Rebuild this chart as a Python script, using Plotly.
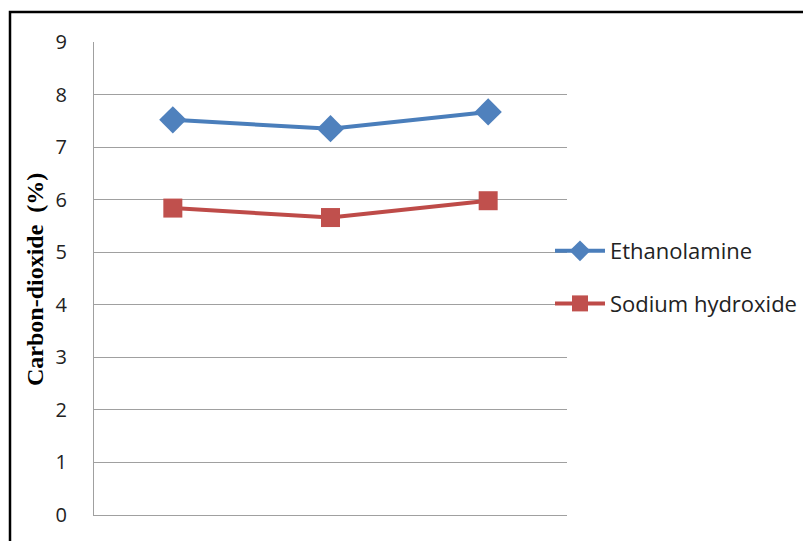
import plotly.graph_objects as go

# Sample positions along the (unlabelled) horizontal axis
samples = [1, 2, 3]

# Carbon-dioxide content (%) for each absorbent
ethanolamine = [7.52, 7.35, 7.67]
sodium_hydroxide = [5.84, 5.66, 5.98]

y_ticks = [0, 1, 2, 3, 4, 5, 6, 7, 8, 9]

W, H = 803, 541
L, R, T, B = 94, 236, 42, 26
pw, ph = W - L - R, H - T - B

fig = go.Figure()
fig.add_trace(go.Scatter(
    x=samples, y=ethanolamine, name="Ethanolamine", mode="lines+markers",
    line=dict(color="#4A7EBB", width=4),
    marker=dict(symbol="diamond", size=21, color="#4F81BD"),
    legendgroup="a",
))
fig.add_trace(go.Scatter(
    x=samples, y=sodium_hydroxide, name="Sodium hydroxide", mode="lines+markers",
    line=dict(color="#BE4B48", width=4),
    marker=dict(symbol="square", size=19, color="#C0504D"),
    legendgroup="b",
))

fig.update_layout(
    width=W, height=H,
    margin=dict(l=L, r=R, t=T, b=B, autoexpand=False),
    paper_bgcolor="white", plot_bgcolor="white",
    font=dict(family="Open Sans", size=20, color="#222222"),
    showlegend=True,
    legend=dict(
        x=(550 - L) / pw, y=(515 - 230) / ph, xanchor="left", yanchor="top",
        traceorder="grouped", tracegroupgap=21, itemwidth=50,
        font=dict(family="Open Sans", size=22, color="#222222"),
        bgcolor="rgba(0,0,0,0)",
    ),
    xaxis=dict(
        range=[0.5, 3.5], showticklabels=False, showgrid=False, zeroline=False,
        showline=True, linecolor="#A0A0A0", linewidth=1, ticks="",
    ),
    yaxis=dict(
        range=[0, 9], tickvals=y_ticks, ticktext=[str(v) for v in y_ticks],
        showgrid=True, gridcolor="#A0A0A0", gridwidth=1, zeroline=False,
        showline=True, linecolor="#A0A0A0", linewidth=1, ticks="",
        ticklabelstandoff=22,
        tickfont=dict(family="Open Sans", size=20, color="#222222"),
    ),
    annotations=[dict(
        text="<b>Carbon-dioxide  (%)</b>", textangle=-90, showarrow=False,
        xref="paper", yref="paper", x=(35 - L) / pw, y=(515 - 280) / ph,
        xanchor="center", yanchor="middle",
        font=dict(family="Liberation Serif", size=24, color="#000000"),
    )],
    shapes=[dict(
        type="rect", xref="paper", yref="paper",
        x0=(10 - L) / pw, x1=(W + 20 - L) / pw,
        y0=-(B + 20) / ph, y1=1 + (T - 12) / ph,
        line=dict(color="#000000", width=2.5), fillcolor="rgba(0,0,0,0)",
    )],
)

fig.write_html("out.html")
